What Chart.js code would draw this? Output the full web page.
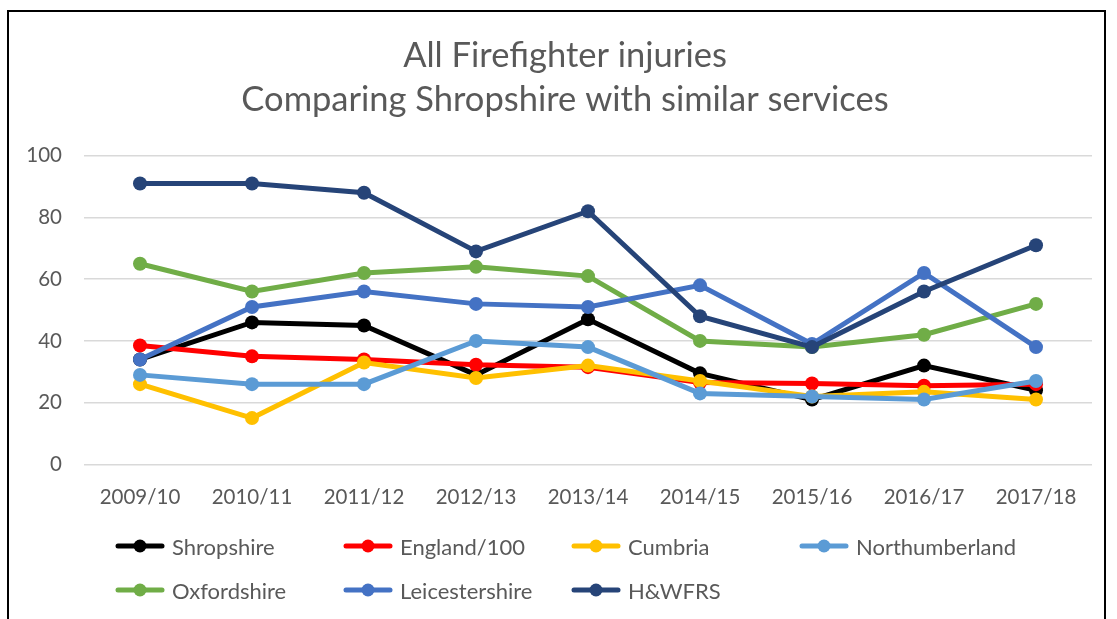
<!DOCTYPE html>
<html>
<head>
<meta charset="utf-8">
<script src="https://cdn.jsdelivr.net/npm/chart.js@4.4.0/dist/chart.umd.min.js"></script>
<style>
    body { margin: 0; background: #fff; overflow: hidden; }
    #marco {
        position: absolute; left: 7px; top: 10px; width: 1099px; height: 640px;
        border: 2px solid #000; box-sizing: border-box;
    }
    #lienzo { position: absolute; left: 0; top: 0; width: 1117px; height: 619px; overflow: hidden; }
    #leyenda { position: absolute; left: 115px; top: 531px; width: 1000px; font-family: Lato, sans-serif; }
    .item { position: absolute; height: 30px; display: flex; align-items: center; color: #595959; font-size: 22px; }
    .item canvas { margin-right: 7px; }
</style>
</head>
<body>
<div id="marco"></div>
<div id="lienzo"><canvas id="grafico" width="1130" height="619"></canvas></div>
<div id="leyenda"></div>
<script>
const temporadas = ['2009/10', '2010/11', '2011/12', '2012/13', '2013/14', '2014/15', '2015/16', '2016/17', '2017/18'];

const shropshire     = [34, 46, 45, 29, 47, 29.5, 21, 32, 24];
const england100     = [38.5, 35, 34, 32.3, 31.5, 26.5, 26.2, 25.5, 26];
const cumbria        = [26, 15, 33, 28, 32, 27, 22, 23.5, 21];
const northumberland = [29, 26, 26, 40, 38, 23, 22, 21, 27];
const oxfordshire    = [65, 56, 62, 64, 61, 40, 38, 42, 52];
const leicestershire = [34, 51, 56, 52, 51, 58, 39, 62, 38];
const hwfrs          = [91, 91, 88, 69, 82, 48, 38, 56, 71];

const series = [
    { nombre: 'Shropshire', datos: shropshire, color: '#000000' },
    { nombre: 'England/100', datos: england100, color: '#FF0000' },
    { nombre: 'Cumbria', datos: cumbria, color: '#FFC000' },
    { nombre: 'Northumberland', datos: northumberland, color: '#5B9BD5' },
    { nombre: 'Oxfordshire', datos: oxfordshire, color: '#70AD47' },
    { nombre: 'Leicestershire', datos: leicestershire, color: '#4472C4' },
    { nombre: 'H&WFRS', datos: hwfrs, color: '#264478' }
];

const gris = '#595959';
const fuente = 'Lato, sans-serif';

const datasets = series.map(function(s, i) {
    return {
        label: s.nombre,
        data: s.datos,
        borderColor: s.color,
        backgroundColor: s.color,
        borderWidth: 5,
        pointRadius: 7,
        pointHoverRadius: 7,
        pointBorderWidth: 0,
        pointBackgroundColor: s.color,
        tension: 0,
        order: series.length - i
    };
});

const chart = new Chart(document.getElementById('grafico'), {
    type: 'line',
    data: { labels: temporadas, datasets: datasets },
    options: {
        responsive: false,
        animation: false,
        layout: { padding: { left: 0, right: 0, top: 0, bottom: 88 } },
        plugins: {
            legend: { display: false },
            tooltip: { enabled: false },
            title: {
                display: true,
                text: ['All Firefighter injuries', 'Comparing Shropshire with similar services'],
                color: gris,
                font: { family: fuente, size: 34.5, weight: 'normal', lineHeight: 1.3 },
                padding: { top: 33, bottom: 33 }
            }
        },
        scales: {
            x: {
                offset: true,
                grid: { display: false, drawTicks: false },
                border: { display: false },
                ticks: { color: gris, font: { family: fuente, size: 20.5 }, padding: 21, maxRotation: 0 }
            },
            y: {
                min: 0,
                max: 100,
                afterFit: function(scale) { scale.width = 84; },
                grid: { color: '#d9d9d9', lineWidth: 1.5, drawTicks: false },
                border: { display: false },
                ticks: { stepSize: 20, color: gris, font: { family: fuente, size: 20.5 }, padding: 22 }
            },
            // eje vacio a la derecha, solo para dejar el margen
            derecha: {
                position: 'right',
                afterFit: function(scale) { scale.width = 38; },
                grid: { display: false, drawTicks: false },
                border: { display: false },
                ticks: { display: false }
            }
        }
    }
});

// leyenda en 4 columnas, como en el original
const leyenda = document.getElementById('leyenda');
series.forEach(function(s, i) {
    const item = document.createElement('div');
    item.className = 'item';
    item.style.left = (i % 4) * 228 + 'px';
    item.style.top = Math.floor(i / 4) * 44 + 'px';
    const muestra = document.createElement('canvas');
    muestra.width = 50;
    muestra.height = 16;
    const ctx = muestra.getContext('2d');
    ctx.strokeStyle = s.color;
    ctx.lineWidth = 5;
    ctx.lineCap = 'round';
    ctx.beginPath();
    ctx.moveTo(3, 8);
    ctx.lineTo(47, 8);
    ctx.stroke();
    ctx.fillStyle = s.color;
    ctx.beginPath();
    ctx.arc(25, 8, 6.5, 0, Math.PI * 2);
    ctx.fill();
    item.appendChild(muestra);
    const texto = document.createElement('span');
    texto.textContent = s.nombre;
    item.appendChild(texto);
    leyenda.appendChild(item);
});
</script>
</body>
</html>
